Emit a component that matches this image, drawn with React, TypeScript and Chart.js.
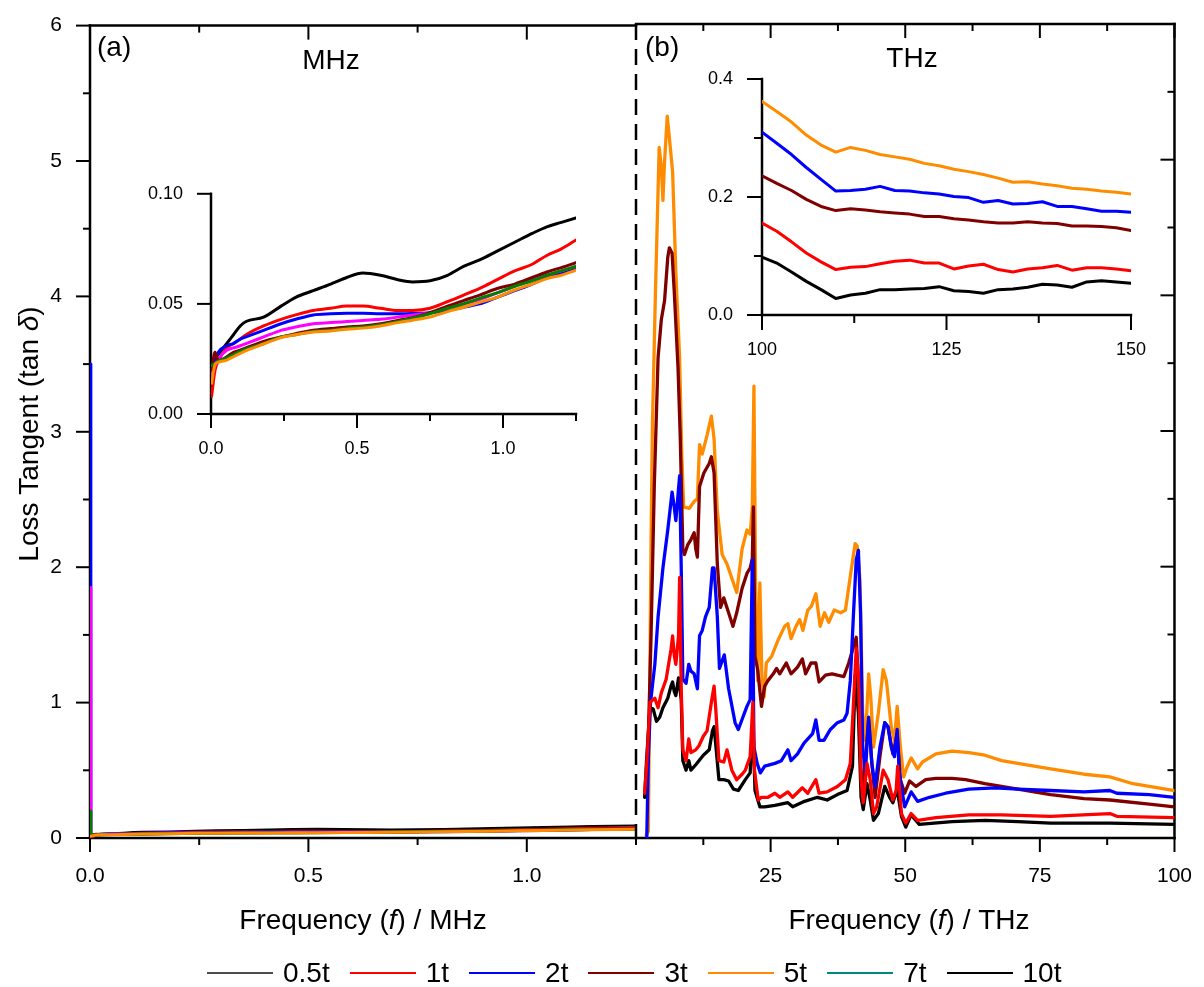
import React, { useEffect, useRef } from 'react';
import { Chart, registerables } from 'chart.js';

Chart.register(...registerables);

const FONT = "'Liberation Sans', Arial, Helvetica, sans-serif";

// ---------------- Panel (a): MHz data (also used by the MHz inset) ----------------
const mhzFreq = [0.002, 0.014, 0.025, 0.054, 0.077, 0.10, 0.12, 0.18, 0.24, 0.29, 0.35, 0.41, 0.465, 0.52, 0.58, 0.64, 0.69, 0.75, 0.81, 0.865, 0.92, 0.98, 1.04, 1.10, 1.15, 1.20, 1.25];
const mhz10t = [0.020, 0.025, 0.027, 0.032, 0.036, 0.040, 0.042, 0.044, 0.049, 0.053, 0.056, 0.059, 0.062, 0.064, 0.063, 0.061, 0.060, 0.0605, 0.063, 0.067, 0.070, 0.074, 0.078, 0.082, 0.085, 0.087, 0.089];
const mhz1t = [0.008, 0.020, 0.024, 0.030, 0.032, 0.034, 0.036, 0.040, 0.043, 0.045, 0.047, 0.048, 0.049, 0.049, 0.048, 0.047, 0.047, 0.048, 0.051, 0.054, 0.057, 0.061, 0.065, 0.068, 0.072, 0.075, 0.079];
const mhz2t = [0.015, 0.024, 0.028, 0.031, 0.032, 0.034, 0.035, 0.038, 0.041, 0.043, 0.045, 0.0455, 0.0457, 0.0457, 0.0455, 0.0455, 0.0456, 0.046, 0.047, 0.0485, 0.050, 0.053, 0.056, 0.059, 0.062, 0.064, 0.066];
const mhz05t = [0.018, 0.022, 0.025, 0.029, 0.030, 0.031, 0.032, 0.035, 0.038, 0.0395, 0.041, 0.0415, 0.042, 0.0425, 0.043, 0.044, 0.045, 0.046, 0.048, 0.050, 0.052, 0.055, 0.058, 0.061, 0.063, 0.065, 0.067];
const mhz3t = [0.020, 0.028, 0.024, 0.026, 0.028, 0.029, 0.030, 0.033, 0.035, 0.0365, 0.038, 0.0388, 0.0395, 0.040, 0.041, 0.0425, 0.0437, 0.046, 0.049, 0.0515, 0.054, 0.057, 0.059, 0.062, 0.0645, 0.0665, 0.0687];
const mhz7t = [0.022, 0.023, 0.024, 0.0255, 0.027, 0.0285, 0.0295, 0.032, 0.035, 0.036, 0.0375, 0.038, 0.039, 0.0395, 0.0405, 0.042, 0.0435, 0.0455, 0.048, 0.050, 0.0525, 0.055, 0.058, 0.0605, 0.063, 0.065, 0.067];
const mhz5t = [0.014, 0.0225, 0.0235, 0.0245, 0.026, 0.0275, 0.0288, 0.0318, 0.0347, 0.036, 0.0372, 0.0377, 0.0385, 0.039, 0.040, 0.0415, 0.0426, 0.044, 0.0465, 0.0485, 0.0507, 0.053, 0.0563, 0.059, 0.0615, 0.063, 0.0653];
// values at f = 0 (only visible in the main panel)
const mhzAtZero2t = 3.5;
const mhzAtZero05t = 1.85;
const mhzAtZero7t = 0.2;

// ---------------- Panel (b): THz data [f (THz), tan delta] ----------------
const thz5t: [number, number][] = [
  [1.9, 0.02], [2.3, 0.05], [2.8, 2.2], [3.05, 3.04], [3.6, 4.0], [4.3, 5.09], [4.7, 4.95], [5.0, 4.70], [5.3, 4.98], [5.8, 5.32],
  [6.2, 5.16], [6.8, 4.91], [7.4, 4.17], [8.1, 3.54], [8.5, 2.83], [8.85, 2.44], [9.9, 2.43], [10.8, 2.48], [11.4, 2.50], [11.8, 2.90],
  [12.3, 2.83], [13.2, 2.97], [14.0, 3.11], [14.5, 2.94], [15.1, 2.41], [16.0, 2.09], [16.9, 2.02], [18.1, 1.88], [18.7, 1.81], [19.7, 2.13],
  [20.6, 2.27], [21.2, 2.24], [21.6, 2.44], [21.9, 3.33], [22.2, 1.90], [22.6, 1.16], [23.0, 1.88], [23.4, 1.16], [23.8, 1.04], [24.2, 1.29],
  [25.2, 1.34], [26.4, 1.46], [27.6, 1.56], [28.2, 1.58], [28.8, 1.47], [29.7, 1.56], [30.4, 1.61], [31.0, 1.53], [31.9, 1.68], [32.6, 1.71],
  [33.4, 1.80], [34.2, 1.56], [35.0, 1.66], [35.8, 1.59], [36.8, 1.68], [38.0, 1.66], [38.9, 1.68], [39.8, 1.93], [40.7, 2.17], [41.1, 2.15],
  [41.6, 1.90], [42.1, 0.92], [42.6, 0.72], [43.2, 1.21], [43.6, 1.04], [44.1, 0.67], [45.0, 0.92], [45.9, 1.24], [46.5, 1.16], [47.4, 0.82],
  [48.0, 0.72], [48.5, 0.97], [49.1, 0.67], [49.7, 0.45], [50.3, 0.52], [51.1, 0.59], [52.3, 0.51], [53.2, 0.56], [55.7, 0.62], [58.7, 0.64],
  [61.8, 0.63], [64.8, 0.61], [67.9, 0.57], [70.9, 0.55], [77.0, 0.51], [83.2, 0.47], [88.0, 0.45], [92.3, 0.40], [100, 0.35],
];
const thz3t: [number, number][] = [
  [2.2, 0.6], [2.8, 1.5], [3.4, 2.6], [4.1, 3.54], [4.7, 3.82], [5.3, 3.96], [5.9, 4.28], [6.2, 4.35], [6.7, 4.31], [7.1, 4.03],
  [7.8, 3.47], [8.2, 2.98], [8.7, 2.13], [9.0, 2.09], [9.6, 2.16], [10.2, 2.20], [10.8, 2.25], [11.1, 2.13], [11.4, 2.07], [11.8, 2.59],
  [12.6, 2.69], [13.6, 2.76], [14.0, 2.81], [14.5, 2.69], [15.1, 2.02], [15.7, 1.70], [16.3, 1.77], [17.2, 1.66], [18.0, 1.56], [18.7, 1.66],
  [19.7, 1.84], [20.6, 1.95], [21.2, 1.99], [21.6, 2.06], [21.8, 2.44], [22.1, 1.34], [22.6, 1.24], [23.3, 0.97], [23.9, 1.12], [24.5, 1.16],
  [25.5, 1.21], [26.1, 1.25], [26.7, 1.21], [27.9, 1.29], [28.8, 1.21], [30.0, 1.26], [30.9, 1.32], [31.5, 1.21], [32.5, 1.29], [33.4, 1.29],
  [34.0, 1.15], [35.2, 1.20], [36.4, 1.21], [37.4, 1.20], [38.6, 1.19], [39.5, 1.29], [40.4, 1.41], [40.9, 1.48], [41.3, 1.16], [41.8, 0.48],
  [42.2, 0.38], [43.2, 0.87], [43.8, 0.55], [44.4, 0.30], [45.3, 0.60], [46.2, 0.85], [46.8, 0.82], [47.7, 0.62], [48.5, 0.77], [49.1, 0.43],
  [49.9, 0.33], [50.8, 0.42], [52.0, 0.38], [53.8, 0.43], [55.7, 0.44], [58.7, 0.44], [61.2, 0.43], [64.8, 0.40], [70.9, 0.36], [77.0, 0.32],
  [83.2, 0.29], [88.0, 0.28], [95.3, 0.25], [100, 0.23],
];
const thz2t: [number, number][] = [
  [2.0, 0.0], [2.3, 0.6], [2.7, 1.0], [3.5, 1.28], [4.1, 1.63], [5.0, 1.99], [5.9, 2.27], [6.7, 2.55], [7.1, 2.44], [7.4, 2.34],
  [8.1, 2.67], [8.4, 1.99], [8.7, 1.17], [9.3, 1.14], [9.8, 1.28], [10.2, 1.23], [10.8, 1.21], [11.4, 1.10], [11.8, 1.49], [12.3, 1.53],
  [12.9, 1.63], [13.6, 1.70], [14.2, 1.99], [14.5, 1.99], [15.1, 1.63], [15.5, 1.25], [16.4, 1.35], [17.2, 1.10], [18.4, 0.85], [19.0, 0.80],
  [20.6, 0.97], [21.2, 1.02], [21.6, 2.05], [21.9, 0.67], [22.5, 0.55], [23.1, 0.48], [23.9, 0.53], [25.8, 0.55], [27.0, 0.57], [28.2, 0.65],
  [28.8, 0.57], [30.0, 0.62], [31.2, 0.70], [32.8, 0.77], [33.4, 0.87], [34.0, 0.72], [34.9, 0.72], [36.1, 0.80], [37.4, 0.85], [38.6, 0.87],
  [39.2, 0.92], [39.8, 1.16], [40.4, 1.66], [40.9, 2.05], [41.3, 2.12], [41.7, 1.66], [42.1, 0.67], [42.6, 0.48], [43.2, 0.89], [43.8, 0.55],
  [44.4, 0.38], [45.3, 0.67], [46.2, 0.85], [46.8, 0.82], [47.4, 0.67], [48.0, 0.60], [48.5, 0.80], [48.9, 0.48], [49.6, 0.30], [49.9, 0.23],
  [51.1, 0.34], [52.3, 0.27], [54.5, 0.30], [57.5, 0.33], [61.8, 0.36], [66.7, 0.37], [70.9, 0.36], [77.0, 0.35], [83.2, 0.34], [88.0, 0.35],
  [89.3, 0.33], [95.3, 0.32], [100, 0.30],
];
const thz1t: [number, number][] = [
  [1.6, 0.33], [2.0, 0.55], [2.6, 1.0], [3.5, 1.03], [4.1, 0.96], [4.7, 1.07], [5.6, 1.17], [6.5, 1.39], [6.8, 1.49], [7.1, 1.35],
  [7.4, 1.28], [7.9, 1.49], [8.1, 1.92], [8.4, 1.10], [8.7, 0.65], [9.3, 0.57], [9.8, 0.73], [10.2, 0.63], [11.1, 0.65], [11.7, 0.68],
  [12.5, 0.75], [13.2, 0.79], [14.0, 1.00], [14.5, 1.12], [14.8, 0.96], [15.4, 0.57], [16.3, 0.56], [16.9, 0.65], [17.8, 0.50], [18.7, 0.43],
  [19.7, 0.47], [20.3, 0.50], [21.2, 0.60], [21.7, 1.0], [22.0, 0.5], [22.7, 0.28], [23.3, 0.30], [24.5, 0.30], [25.8, 0.33], [26.7, 0.30],
  [28.2, 0.34], [29.1, 0.30], [30.9, 0.37], [31.9, 0.33], [33.4, 0.43], [34.0, 0.33], [35.5, 0.34], [37.4, 0.38], [38.9, 0.43], [39.8, 0.55],
  [40.4, 1.0], [40.9, 1.4], [41.3, 1.2], [41.8, 0.43], [42.2, 0.26], [42.9, 0.55], [43.5, 0.43], [44.1, 0.18], [44.7, 0.23], [45.9, 0.50],
  [46.8, 0.43], [47.7, 0.28], [48.3, 0.35], [48.6, 0.53], [49.3, 0.18], [50.1, 0.11], [51.1, 0.18], [52.3, 0.13], [55.7, 0.15], [61.8, 0.17],
  [67.9, 0.17], [77.0, 0.16], [88.0, 0.18], [89.3, 0.16], [100, 0.15],
];
const thz10t: [number, number][] = [
  [1.6, 0.3], [2.0, 0.6], [2.6, 0.96], [3.2, 0.95], [3.8, 0.86], [4.4, 0.89], [5.0, 0.96], [5.9, 1.03], [6.5, 1.12], [6.8, 1.15],
  [7.1, 1.08], [7.4, 1.05], [7.9, 1.18], [8.4, 1.02], [8.7, 0.57], [9.3, 0.50], [9.8, 0.57], [10.2, 0.50], [11.1, 0.54], [12.5, 0.61],
  [13.6, 0.65], [14.2, 0.79], [14.5, 0.82], [14.9, 0.65], [15.4, 0.43], [16.3, 0.43], [17.2, 0.42], [18.1, 0.36], [19.0, 0.35], [20.3, 0.43],
  [21.2, 0.48], [21.7, 0.85], [22.1, 0.35], [23.0, 0.23], [23.9, 0.23], [25.8, 0.24], [28.2, 0.26], [29.1, 0.23], [31.3, 0.27], [33.7, 0.30],
  [35.5, 0.28], [37.4, 0.32], [39.2, 0.35], [40.2, 0.53], [40.7, 1.2], [41.3, 0.92], [41.8, 0.30], [42.2, 0.21], [42.9, 0.40], [43.5, 0.28],
  [44.1, 0.13], [45.0, 0.18], [46.2, 0.38], [47.1, 0.30], [47.7, 0.26], [48.5, 0.36], [49.3, 0.16], [50.1, 0.08], [51.1, 0.17], [52.6, 0.10],
  [58.7, 0.12], [64.8, 0.13], [70.9, 0.12], [77.0, 0.11], [88.0, 0.11], [100, 0.10],
];

// ---------------- THz inset (100 - 150 THz) ----------------
const thzInsetFreq = [100, 102, 104, 106, 108, 110, 112, 114, 116, 118, 120, 122, 124, 126, 128, 130, 132, 134, 136, 138, 140, 142, 144, 146, 148, 150];
const thzIn5t = [0.362, 0.345, 0.327, 0.305, 0.288, 0.276, 0.284, 0.279, 0.272, 0.268, 0.264, 0.257, 0.253, 0.247, 0.243, 0.238, 0.232, 0.225, 0.226, 0.222, 0.219, 0.215, 0.213, 0.210, 0.208, 0.205];
const thzIn2t = [0.310, 0.291, 0.272, 0.250, 0.230, 0.210, 0.211, 0.213, 0.218, 0.211, 0.210, 0.207, 0.205, 0.201, 0.199, 0.191, 0.194, 0.188, 0.189, 0.192, 0.184, 0.184, 0.180, 0.176, 0.176, 0.174];
const thzIn3t = [0.236, 0.223, 0.211, 0.196, 0.184, 0.177, 0.180, 0.178, 0.175, 0.173, 0.171, 0.167, 0.167, 0.163, 0.161, 0.158, 0.156, 0.156, 0.158, 0.156, 0.155, 0.151, 0.151, 0.150, 0.148, 0.143];
const thzIn1t = [0.156, 0.142, 0.124, 0.105, 0.090, 0.077, 0.081, 0.082, 0.087, 0.091, 0.093, 0.088, 0.088, 0.078, 0.083, 0.086, 0.077, 0.073, 0.078, 0.080, 0.084, 0.076, 0.080, 0.080, 0.078, 0.075];
const thzIn10t = [0.098, 0.088, 0.073, 0.057, 0.043, 0.028, 0.034, 0.037, 0.043, 0.043, 0.044, 0.045, 0.048, 0.041, 0.040, 0.037, 0.043, 0.044, 0.047, 0.052, 0.051, 0.047, 0.056, 0.058, 0.056, 0.054];

// ---------------- ticks / legend ----------------
const mainYMajor = [0, 1, 2, 3, 4, 5, 6];
const mainYMinor = [0.5, 1.5, 2.5, 3.5, 4.5, 5.5];
const mhzXMajor = [0, 0.5, 1.0];
const mhzXMinor = [0.25, 0.75, 1.25];
const thzXMajor = [25, 50, 75, 100];
const thzXMinor = [0, 12.5, 37.5, 62.5, 87.5];
const insAYMajor = [0, 0.05, 0.1];
const insBYMajor = [0, 0.2, 0.4];
const insBYMinor = [0.1, 0.3];
const insBXMajor = [100, 125, 150];
const insBXMinor = [112.5, 137.5];

const legendLabels = ['0.5t', '1t', '2t', '3t', '5t', '7t', '10t'];
const legendColors = ['#4d4d4d', '#ff0000', '#0000ff', '#800000', '#ff8c00', '#00897b', '#000000'];

const C = {
  black: '#000000', red: '#ff0000', blue: '#0000ff', magenta: '#ff00ff',
  darkred: '#800000', green: '#008000', orange: '#ff8c00',
};

type Side = 'out' | 'in' | 'dash' | 'none';
interface FrameCfg {
  left: Side; right: Side; top: Side; bottom: Side;
  xMajor: number[]; xMinor: number[]; yMajor: number[]; yMinor: number[];
  majorLen: number; minorLen: number; border: number; tick: number;
  texts: Array<(ctx: CanvasRenderingContext2D) => void>;
}

type Seg = { t: string; italic?: boolean };
function rich(segs: Seg[], cx: number, cy: number, size: number, rot = 0) {
  return (ctx: CanvasRenderingContext2D) => {
    ctx.save();
    ctx.translate(cx, cy);
    if (rot) ctx.rotate(rot);
    ctx.fillStyle = '#000';
    ctx.textBaseline = 'middle';
    ctx.textAlign = 'left';
    const widths = segs.map((s) => {
      ctx.font = `${s.italic ? 'italic ' : ''}${size}px ${FONT}`;
      return ctx.measureText(s.t).width;
    });
    let x = -widths.reduce((a, b) => a + b, 0) / 2;
    segs.forEach((s, i) => {
      ctx.font = `${s.italic ? 'italic ' : ''}${size}px ${FONT}`;
      ctx.fillText(s.t, x, 0);
      x += widths[i];
    });
    ctx.restore();
  };
}
function txt(s: string, x: number, y: number, size: number, align: CanvasTextAlign = 'center') {
  return (ctx: CanvasRenderingContext2D) => {
    ctx.save();
    ctx.font = `${size}px ${FONT}`;
    ctx.fillStyle = '#000';
    ctx.textAlign = align;
    ctx.textBaseline = 'middle';
    ctx.fillText(s, x, y);
    ctx.restore();
  };
}

function framePlugin(id: string, cfg: FrameCfg) {
  return {
    id,
    beforeDatasetsDraw(chart: any) {
      const { ctx, chartArea: a, scales } = chart;
      const xs = scales.x;
      const ys = scales.y;
      const line = (x1: number, y1: number, x2: number, y2: number) => {
        ctx.beginPath();
        ctx.moveTo(x1, y1);
        ctx.lineTo(x2, y2);
        ctx.stroke();
      };
      ctx.save();
      ctx.strokeStyle = '#000';
      const sides: Array<[keyof FrameCfg, number, boolean, number]> = [
        ['left', a.left, true, -1],
        ['right', a.right, true, 1],
        ['top', a.top, false, -1],
        ['bottom', a.bottom, false, 1],
      ];
      for (const [name, pos, vertical, outSign] of sides) {
        const mode = cfg[name] as Side;
        if (mode === 'none') continue;
        ctx.lineWidth = cfg.border;
        if (mode === 'dash') {
          ctx.setLineDash([16, 9]);
          ctx.lineCap = 'butt';
        } else {
          ctx.setLineDash([]);
          ctx.lineCap = 'square';
        }
        if (vertical) line(pos, a.top, pos, a.bottom);
        else line(a.left, pos, a.right, pos);
        if (mode === 'dash') continue;
        ctx.setLineDash([]);
        ctx.lineCap = 'butt';
        ctx.lineWidth = cfg.tick;
        const sign = mode === 'out' ? outSign : -outSign;
        const groups: Array<[number[], number]> = vertical
          ? [[cfg.yMajor, cfg.majorLen], [cfg.yMinor, cfg.minorLen]]
          : [[cfg.xMajor, cfg.majorLen], [cfg.xMinor, cfg.minorLen]];
        for (const [vals, len] of groups) {
          for (const v of vals) {
            if (vertical) {
              const p = ys.getPixelForValue(v);
              line(pos, p, pos + sign * len, p);
            } else {
              const p = xs.getPixelForValue(v);
              line(p, pos, p, pos + sign * len);
            }
          }
        }
      }
      ctx.restore();
    },
    afterDraw(chart: any) {
      cfg.texts.forEach((fn) => fn(chart.ctx));
    },
  };
}

function scale(o: {
  min: number; max: number; step: number; fmt: (v: number) => string; size: number;
  tickLen: number; pad: number; fit?: (s: any) => void; display?: boolean;
}) {
  return {
    type: 'linear',
    display: o.display !== false,
    min: o.min,
    max: o.max,
    ticks: {
      stepSize: o.step,
      autoSkip: false,
      maxRotation: 0,
      minRotation: 0,
      callback: (v: any) => o.fmt(Number(v)),
      font: { family: FONT, size: o.size },
      color: '#000',
      padding: o.pad,
    },
    grid: { display: true, drawOnChartArea: false, drawTicks: true, tickLength: o.tickLen, color: 'rgba(0,0,0,0)' },
    border: { display: false },
    afterFit: o.fit,
  };
}

const isMult = (v: number, m: number) => Math.abs(v / m - Math.round(v / m)) < 1e-6;

function lineDs(label: string, pts: { x: number; y: number }[], color: string, width: number, order: number, smooth = false) {
  return {
    label,
    data: pts,
    borderColor: color,
    backgroundColor: color,
    borderWidth: width,
    pointRadius: 0,
    tension: 0,
    cubicInterpolationMode: smooth ? 'monotone' : 'default',
    borderJoinStyle: 'round',
    borderCapStyle: 'round',
    fill: false,
    order,
  };
}

const gridPts = (xs: number[], ys: number[]) => xs.map((x, i) => ({ x, y: ys[i] }));
const pairPts = (p: [number, number][]) => p.map(([x, y]) => ({ x, y }));

const mhzSeries = [
  { label: '10t', vals: mhz10t, color: C.black, zero: null as number | null, order: 6 },
  { label: '1t', vals: mhz1t, color: C.red, zero: null as number | null, order: 5 },
  { label: '2t', vals: mhz2t, color: C.blue, zero: mhzAtZero2t, order: 4 },
  { label: '0.5t', vals: mhz05t, color: C.magenta, zero: mhzAtZero05t, order: 3 },
  { label: '3t', vals: mhz3t, color: C.darkred, zero: null as number | null, order: 2 },
  { label: '7t', vals: mhz7t, color: C.green, zero: mhzAtZero7t, order: 1 },
  { label: '5t', vals: mhz5t, color: C.orange, zero: null as number | null, order: 0 },
];

const thzSeries = [
  { label: '5t', main: thz5t, inset: thzIn5t, color: C.orange, order: 4 },
  { label: '3t', main: thz3t, inset: thzIn3t, color: C.darkred, order: 3 },
  { label: '2t', main: thz2t, inset: thzIn2t, color: C.blue, order: 2 },
  { label: '10t', main: thz10t, inset: thzIn10t, color: C.black, order: 1 },
  { label: '1t', main: thz1t, inset: thzIn1t, color: C.red, order: 0 },
];

const common = {
  responsive: false,
  animation: false,
  events: [],
  plugins: { legend: { display: false }, tooltip: { enabled: false } },
};

function configMainA(): any {
  return {
    type: 'line',
    data: {
      datasets: mhzSeries.map((s) => {
        const pts = gridPts(mhzFreq, s.vals);
        const all = s.zero !== null ? [{ x: 0, y: s.zero }, ...pts] : pts;
        return lineDs(s.label, all, s.color, 3, s.order, false);
      }),
    },
    options: {
      ...common,
      layout: { padding: { left: 0, top: 24, right: 1204 - 636, bottom: 0 } },
      scales: {
        x: scale({ min: 0, max: 1.25, step: 0.25, fmt: (v) => (isMult(v, 0.5) ? v.toFixed(1) : ''), size: 21, tickLen: 14, pad: 12, fit: (s) => { s.height = 987 - 838; } }),
        y: scale({ min: 0, max: 6, step: 0.5, fmt: (v) => (isMult(v, 1) ? String(Math.round(v)) : ''), size: 21, tickLen: 15, pad: 13, fit: (s) => { s.width = 90; } }),
      },
    },
    plugins: [
      framePlugin('frameA', {
        left: 'out', right: 'none', top: 'in', bottom: 'out',
        xMajor: mhzXMajor, xMinor: mhzXMinor, yMajor: mainYMajor, yMinor: mainYMinor,
        majorLen: 14, minorLen: 7, border: 2.5, tick: 2,
        texts: [
          rich([{ t: 'Loss Tangent (tan ' }, { t: 'δ', italic: true }, { t: ')' }], 30, 434, 28, -Math.PI / 2),
          rich([{ t: 'Frequency (' }, { t: 'f', italic: true }, { t: ') / MHz' }], 363, 921, 28),
          txt('(a)', 97, 48, 28, 'left'),
          txt('MHz', 331, 61, 28),
        ],
      }),
    ],
  };
}

function configMainB(): any {
  return {
    type: 'line',
    data: {
      datasets: thzSeries.map((s) => lineDs(s.label, pairPts(s.main), s.color, 3.3, s.order)),
    },
    options: {
      ...common,
      layout: { padding: { left: 636, top: 24, right: 1204 - 1182, bottom: 0 } },
      scales: {
        x: scale({ min: 0, max: 100, step: 12.5, fmt: (v) => (isMult(v, 25) && v > 0 ? String(Math.round(v)) : ''), size: 21, tickLen: 14, pad: 12, fit: (s) => { s.height = 987 - 838; } }),
        y: scale({ min: 0, max: 6, step: 0.5, fmt: () => '', size: 21, tickLen: 0, pad: 0, display: false }),
      },
    },
    plugins: [
      framePlugin('frameB', {
        left: 'dash', right: 'in', top: 'in', bottom: 'out',
        xMajor: thzXMajor, xMinor: thzXMinor, yMajor: mainYMajor, yMinor: mainYMinor,
        majorLen: 14, minorLen: 7, border: 2.5, tick: 2,
        texts: [
          rich([{ t: 'Frequency (' }, { t: 'f', italic: true }, { t: ') / THz' }], 909, 921, 28),
          txt('(b)', 645, 48, 28, 'left'),
          txt('THz', 912, 59, 28),
        ],
      }),
    ],
  };
}

// MHz inset canvas: left 100, top 170, 500 x 300 -> plot area 211..576 x 191..414
function configInsA(): any {
  return {
    type: 'line',
    data: {
      datasets: mhzSeries.map((s) => lineDs(s.label, gridPts(mhzFreq, s.vals), s.color, 3, s.order, true)),
    },
    options: {
      ...common,
      layout: { padding: { left: 0, top: 21, right: 24, bottom: 0 } },
      scales: {
        x: scale({ min: 0, max: 1.25, step: 0.25, fmt: (v) => (isMult(v, 0.5) ? v.toFixed(1) : ''), size: 18, tickLen: 14, pad: 10, fit: (s) => { s.height = 56; } }),
        y: scale({ min: 0, max: 0.1, step: 0.05, fmt: (v) => v.toFixed(2), size: 18, tickLen: 15, pad: 13, fit: (s) => { s.width = 111; } }),
      },
    },
    plugins: [
      framePlugin('frameInsA', {
        left: 'out', right: 'none', top: 'none', bottom: 'out',
        xMajor: mhzXMajor, xMinor: mhzXMinor, yMajor: insAYMajor, yMinor: [],
        majorLen: 14, minorLen: 7, border: 2.5, tick: 2,
        texts: [],
      }),
    ],
  };
}

// THz inset canvas: left 690, top 50, 480 x 330 -> plot area 762..1131 x 79..315
function configInsB(): any {
  return {
    type: 'line',
    data: {
      datasets: thzSeries.map((s) => lineDs(s.label, gridPts(thzInsetFreq, s.inset), s.color, 3, s.order)),
    },
    options: {
      ...common,
      layout: { padding: { left: 0, top: 29, right: 39, bottom: 0 } },
      scales: {
        x: scale({ min: 100, max: 150, step: 12.5, fmt: (v) => (isMult(v, 25) ? String(Math.round(v)) : ''), size: 18, tickLen: 14, pad: 10, fit: (s) => { s.height = 65; } }),
        y: scale({ min: 0, max: 0.4, step: 0.1, fmt: (v) => (isMult(v, 0.2) ? v.toFixed(1) : ''), size: 18, tickLen: 16, pad: 13, fit: (s) => { s.width = 72; } }),
      },
    },
    plugins: [
      framePlugin('frameInsB', {
        left: 'out', right: 'none', top: 'none', bottom: 'out',
        xMajor: insBXMajor, xMinor: insBXMinor, yMajor: insBYMajor, yMinor: insBYMinor,
        majorLen: 15, minorLen: 8, border: 2.5, tick: 2,
        texts: [],
      }),
    ],
  };
}

export default function App() {
  const mainA = useRef<HTMLCanvasElement>(null);
  const mainB = useRef<HTMLCanvasElement>(null);
  const insA = useRef<HTMLCanvasElement>(null);
  const insB = useRef<HTMLCanvasElement>(null);

  useEffect(() => {
    Chart.defaults.font.family = FONT;
    Chart.defaults.color = '#000';
    const charts = [
      new Chart(mainA.current as HTMLCanvasElement, configMainA()),
      new Chart(mainB.current as HTMLCanvasElement, configMainB()),
      new Chart(insA.current as HTMLCanvasElement, configInsA()),
      new Chart(insB.current as HTMLCanvasElement, configInsB()),
    ];
    return () => charts.forEach((c) => c.destroy());
  }, []);

  const abs = (l: number, t: number): React.CSSProperties => ({ position: 'absolute', left: l, top: t });

  return (
    <div style={{ position: 'absolute', left: 0, top: 0, width: 1204, height: 987, background: '#fff', overflow: 'hidden' }}>
      <canvas ref={mainA} width={1204} height={987} style={abs(0, 0)} />
      <canvas ref={mainB} width={1204} height={987} style={abs(0, 0)} />
      <canvas ref={insA} width={500} height={300} style={abs(100, 170)} />
      <canvas ref={insB} width={480} height={330} style={abs(690, 50)} />
      <div
        style={{
          position: 'absolute', left: 207, top: 955, display: 'flex', alignItems: 'center',
          fontFamily: FONT, fontSize: 28, lineHeight: '36px', whiteSpace: 'nowrap', color: '#000',
        }}
      >
        {legendLabels.map((lab, i) => (
          <div key={lab} style={{ display: 'flex', alignItems: 'center', marginRight: 20 }}>
            <span style={{ display: 'inline-block', width: 66, height: i === 0 ? 1.5 : 2, background: legendColors[i], marginRight: 10 }} />
            <span>{lab}</span>
          </div>
        ))}
      </div>
    </div>
  );
}
